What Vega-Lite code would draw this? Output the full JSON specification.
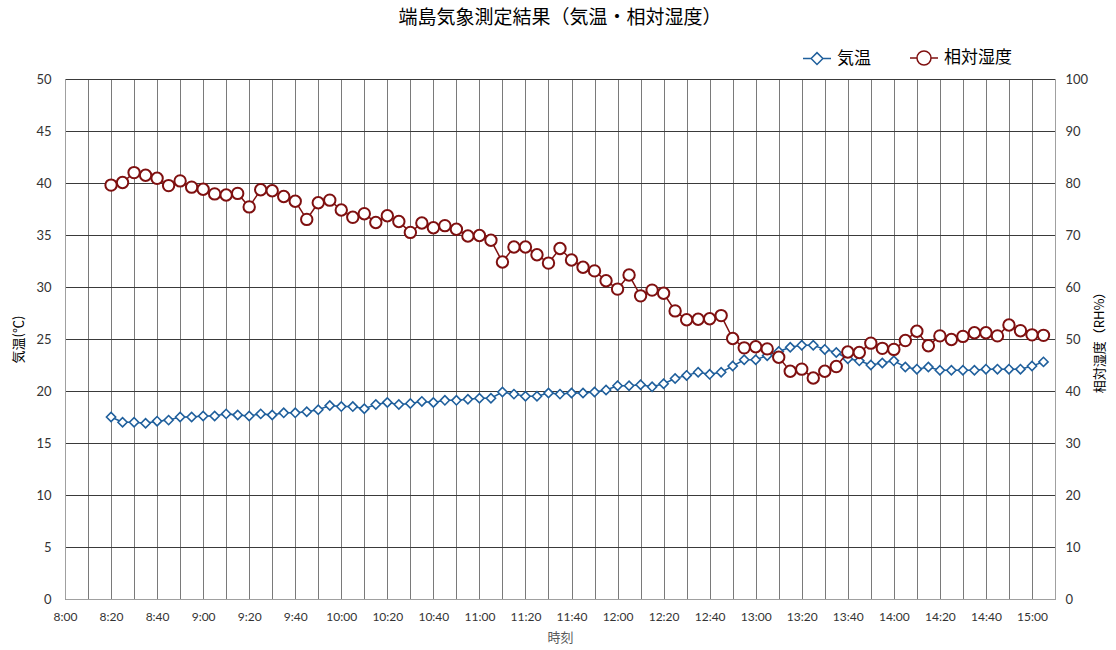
{
  "$schema": "https://vega.github.io/schema/vega-lite/v6.json",
  "width": 990,
  "height": 520,
  "autosize": {"type": "none"},
  "padding": {"left": 65, "top": 79, "right": 61, "bottom": 51},
  "background": "white",
  "title": {
    "text": "端島気象測定結果（気温・相対湿度）",
    "font": "Noto Sans CJK JP",
    "fontSize": 19,
    "fontWeight": "normal",
    "color": "#000000",
    "anchor": "middle",
    "offset": 15
  },
  "config": {
    "view": {"stroke": null},
    "axis": {
      "labelFont": "Lato",
      "labelFontSize": 13,
      "labelColor": "#333333",
      "titleFont": "Noto Sans CJK JP",
      "titleFontWeight": "normal",
      "titleFontSize": 13,
      "titleColor": "#000000",
      "domainColor": "#a0a0a0",
      "ticks": false
    },
    "legend": {
      "labelFont": "Noto Sans CJK JP",
      "labelFontSize": 17,
      "labelColor": "#000000"
    }
  },
  "data": {
    "values": [
      {"時刻": "08:20", "気温": 17.5, "相対湿度": 79.6},
      {"時刻": "08:25", "気温": 17.0, "相対湿度": 80.1},
      {"時刻": "08:30", "気温": 17.0, "相対湿度": 82.0},
      {"時刻": "08:35", "気温": 16.9, "相対湿度": 81.5},
      {"時刻": "08:40", "気温": 17.1, "相対湿度": 80.9},
      {"時刻": "08:45", "気温": 17.2, "相対湿度": 79.5},
      {"時刻": "08:50", "気温": 17.5, "相対湿度": 80.4},
      {"時刻": "08:55", "気温": 17.5, "相対湿度": 79.2},
      {"時刻": "09:00", "気温": 17.6, "相対湿度": 78.8},
      {"時刻": "09:05", "気温": 17.6, "相対湿度": 77.9},
      {"時刻": "09:10", "気温": 17.8, "相対湿度": 77.7},
      {"時刻": "09:15", "気温": 17.7, "相対湿度": 78.0},
      {"時刻": "09:20", "気温": 17.6, "相対湿度": 75.4},
      {"時刻": "09:25", "気温": 17.8, "相対湿度": 78.7},
      {"時刻": "09:30", "気温": 17.7, "相対湿度": 78.5},
      {"時刻": "09:35", "気温": 17.9, "相対湿度": 77.4},
      {"時刻": "09:40", "気温": 17.9, "相対湿度": 76.5},
      {"時刻": "09:45", "気温": 18.0, "相対湿度": 73.0},
      {"時刻": "09:50", "気温": 18.2, "相対湿度": 76.2},
      {"時刻": "09:55", "気温": 18.6, "相対湿度": 76.7},
      {"時刻": "10:00", "気温": 18.5, "相対湿度": 74.8},
      {"時刻": "10:05", "気温": 18.5, "相対湿度": 73.4},
      {"時刻": "10:10", "気温": 18.3, "相対湿度": 74.1},
      {"時刻": "10:15", "気温": 18.7, "相対湿度": 72.4},
      {"時刻": "10:20", "気温": 18.9, "相対湿度": 73.7},
      {"時刻": "10:25", "気温": 18.7, "相対湿度": 72.6},
      {"時刻": "10:30", "気温": 18.8, "相対湿度": 70.5},
      {"時刻": "10:35", "気温": 19.0, "相対湿度": 72.3},
      {"時刻": "10:40", "気温": 18.9, "相対湿度": 71.4},
      {"時刻": "10:45", "気温": 19.1, "相対湿度": 71.8},
      {"時刻": "10:50", "気温": 19.1, "相対湿度": 71.1},
      {"時刻": "10:55", "気温": 19.2, "相対湿度": 69.8},
      {"時刻": "11:00", "気温": 19.3, "相対湿度": 69.9},
      {"時刻": "11:05", "気温": 19.3, "相対湿度": 69.0},
      {"時刻": "11:10", "気温": 19.9, "相対湿度": 64.8},
      {"時刻": "11:15", "気温": 19.7, "相対湿度": 67.7},
      {"時刻": "11:20", "気温": 19.5, "相対湿度": 67.7},
      {"時刻": "11:25", "気温": 19.5, "相対湿度": 66.2},
      {"時刻": "11:30", "気温": 19.8, "相対湿度": 64.6},
      {"時刻": "11:35", "気温": 19.7, "相対湿度": 67.4},
      {"時刻": "11:40", "気温": 19.8, "相対湿度": 65.2},
      {"時刻": "11:45", "気温": 19.8, "相対湿度": 63.8},
      {"時刻": "11:50", "気温": 19.9, "相対湿度": 63.1},
      {"時刻": "11:55", "気温": 20.1, "相対湿度": 61.2},
      {"時刻": "12:00", "気温": 20.5, "相対湿度": 59.6},
      {"時刻": "12:05", "気温": 20.5, "相対湿度": 62.3},
      {"時刻": "12:10", "気温": 20.6, "相対湿度": 58.3},
      {"時刻": "12:15", "気温": 20.4, "相対湿度": 59.4},
      {"時刻": "12:20", "気温": 20.7, "相対湿度": 58.8},
      {"時刻": "12:25", "気温": 21.2, "相対湿度": 55.4},
      {"時刻": "12:30", "気温": 21.5, "相対湿度": 53.7},
      {"時刻": "12:35", "気温": 21.8, "相対湿度": 53.8},
      {"時刻": "12:40", "気温": 21.6, "相対湿度": 53.9},
      {"時刻": "12:45", "気温": 21.8, "相対湿度": 54.5},
      {"時刻": "12:50", "気温": 22.4, "相対湿度": 50.1},
      {"時刻": "12:55", "気温": 23.0, "相対湿度": 48.3},
      {"時刻": "13:00", "気温": 23.0, "相対湿度": 48.5},
      {"時刻": "13:05", "気温": 23.4, "相対湿度": 48.1},
      {"時刻": "13:10", "気温": 23.8, "相対湿度": 46.5},
      {"時刻": "13:15", "気温": 24.2, "相対湿度": 43.8},
      {"時刻": "13:20", "気温": 24.4, "相対湿度": 44.2},
      {"時刻": "13:25", "気温": 24.4, "相対湿度": 42.5},
      {"時刻": "13:30", "気温": 24.0, "相対湿度": 43.8},
      {"時刻": "13:35", "気温": 23.7, "相対湿度": 44.7},
      {"時刻": "13:40", "気温": 23.1, "相対湿度": 47.5},
      {"時刻": "13:45", "気温": 22.9, "相対湿度": 47.4},
      {"時刻": "13:50", "気温": 22.5, "相対湿度": 49.2},
      {"時刻": "13:55", "気温": 22.7, "相対湿度": 48.2},
      {"時刻": "14:00", "気温": 22.9, "相対湿度": 48.0},
      {"時刻": "14:05", "気温": 22.3, "相対湿度": 49.7},
      {"時刻": "14:10", "気温": 22.1, "相対湿度": 51.5},
      {"時刻": "14:15", "気温": 22.3, "相対湿度": 48.7},
      {"時刻": "14:20", "気温": 22.0, "相対湿度": 50.6},
      {"時刻": "14:25", "気温": 22.0, "相対湿度": 49.9},
      {"時刻": "14:30", "気温": 22.0, "相対湿度": 50.5},
      {"時刻": "14:35", "気温": 22.0, "相対湿度": 51.2},
      {"時刻": "14:40", "気温": 22.1, "相対湿度": 51.2},
      {"時刻": "14:45", "気温": 22.1, "相対湿度": 50.6},
      {"時刻": "14:50", "気温": 22.1, "相対湿度": 52.7},
      {"時刻": "14:55", "気温": 22.1, "相対湿度": 51.6},
      {"時刻": "15:00", "気温": 22.4, "相対湿度": 50.8},
      {"時刻": "15:05", "気温": 22.8, "相対湿度": 50.7}
    ],
    "format": {"parse": {"時刻": "date:'%H:%M'"}}
  },
  "layer": [
    {
      "encoding": {
        "x": {
          "field": "時刻",
          "type": "temporal",
          "title": "時刻",
          "scale": {
            "domain": [
              {"year": 1900, "month": 1, "date": 1, "hours": 8, "minutes": 0},
              {"year": 1900, "month": 1, "date": 1, "hours": 15, "minutes": 10}
            ],
            "nice": false
          },
          "axis": {
            "values": [
              {"year": 1900, "month": 1, "date": 1, "hours": 8, "minutes": 0},
              {"year": 1900, "month": 1, "date": 1, "hours": 8, "minutes": 20},
              {"year": 1900, "month": 1, "date": 1, "hours": 8, "minutes": 40},
              {"year": 1900, "month": 1, "date": 1, "hours": 9, "minutes": 0},
              {"year": 1900, "month": 1, "date": 1, "hours": 9, "minutes": 20},
              {"year": 1900, "month": 1, "date": 1, "hours": 9, "minutes": 40},
              {"year": 1900, "month": 1, "date": 1, "hours": 10, "minutes": 0},
              {"year": 1900, "month": 1, "date": 1, "hours": 10, "minutes": 20},
              {"year": 1900, "month": 1, "date": 1, "hours": 10, "minutes": 40},
              {"year": 1900, "month": 1, "date": 1, "hours": 11, "minutes": 0},
              {"year": 1900, "month": 1, "date": 1, "hours": 11, "minutes": 20},
              {"year": 1900, "month": 1, "date": 1, "hours": 11, "minutes": 40},
              {"year": 1900, "month": 1, "date": 1, "hours": 12, "minutes": 0},
              {"year": 1900, "month": 1, "date": 1, "hours": 12, "minutes": 20},
              {"year": 1900, "month": 1, "date": 1, "hours": 12, "minutes": 40},
              {"year": 1900, "month": 1, "date": 1, "hours": 13, "minutes": 0},
              {"year": 1900, "month": 1, "date": 1, "hours": 13, "minutes": 20},
              {"year": 1900, "month": 1, "date": 1, "hours": 13, "minutes": 40},
              {"year": 1900, "month": 1, "date": 1, "hours": 14, "minutes": 0},
              {"year": 1900, "month": 1, "date": 1, "hours": 14, "minutes": 20},
              {"year": 1900, "month": 1, "date": 1, "hours": 14, "minutes": 40},
              {"year": 1900, "month": 1, "date": 1, "hours": 15, "minutes": 0}
            ],
            "format": "%-H:%M",
            "labelOverlap": false,
            "labelFlush": false,
            "labelPadding": 12,
            "labelFontSize": 12,
            "grid": true,
            "gridColor": "#7a7a7a",
            "gridOpacity": 1,
            "titleColor": "#595959",
            "titlePadding": 9
          }
        },
        "y": {
          "field": "気温",
          "type": "quantitative",
          "title": "気温(℃)",
          "scale": {"domain": [0, 50], "nice": false},
          "axis": {
            "values": [0, 5, 10, 15, 20, 25, 30, 35, 40, 45, 50],
            "grid": true,
            "gridColor": "#3a3a3a",
            "gridOpacity": 1,
            "labelPadding": 14,
            "titlePadding": 10
          }
        }
      },
      "layer": [
        {
          "mark": {"type": "line", "color": "#1f5f9c", "strokeWidth": 1.5}
        },
        {
          "mark": {
            "type": "point",
            "shape": "diamond",
            "size": 85,
            "filled": true,
            "fill": "white",
            "stroke": "#1f5f9c",
            "strokeWidth": 1.6,
            "opacity": 1
          }
        },
        {
          "transform": [
            {"fold": ["気温", "相対湿度"], "as": ["系列", "値"]},
            {"filter": "false"}
          ],
          "mark": {
            "type": "point",
            "filled": true,
            "fill": "white",
            "strokeWidth": 1.5,
            "opacity": 1
          },
          "encoding": {
            "y": {"field": "値", "type": "quantitative"},
            "stroke": {
              "field": "系列",
              "type": "nominal",
              "scale": {
                "domain": ["気温", "相対湿度"],
                "range": ["#1f5f9c", "#7f1010"]
              },
              "legend": {
                "title": null,
                "orient": "none",
                "direction": "horizontal",
                "legendX": 737,
                "legendY": -36,
                "symbolSize": 784,
                "symbolStrokeWidth": 1.5,
                "symbolFillColor": "white",
                "columnPadding": 36,
                "labelOffset": 5
              }
            },
            "shape": {
              "field": "系列",
              "type": "nominal",
              "scale": {
                "domain": ["気温", "相対湿度"],
                "range": [
                  "M-1,0L-0.42,0M0.42,0L1,0M-0.42,0L0,-0.42L0.42,0L0,0.42Z",
                  "M-1,0L-0.5,0M0.5,0L1,0M-0.5,0A0.5,0.5,0,1,1,0.5,0A0.5,0.5,0,1,1,-0.5,0Z"
                ]
              },
              "legend": {
                "title": null,
                "orient": "none",
                "direction": "horizontal",
                "legendX": 737,
                "legendY": -36,
                "symbolSize": 784,
                "symbolStrokeWidth": 1.5,
                "symbolFillColor": "white",
                "columnPadding": 36,
                "labelOffset": 5
              }
            }
          }
        }
      ]
    },
    {
      "encoding": {
        "x": {
          "field": "時刻",
          "type": "temporal",
          "axis": {
            "orient": "top",
            "values": [
              {"year": 1900, "month": 1, "date": 1, "hours": 8, "minutes": 10},
              {"year": 1900, "month": 1, "date": 1, "hours": 8, "minutes": 30},
              {"year": 1900, "month": 1, "date": 1, "hours": 8, "minutes": 50},
              {"year": 1900, "month": 1, "date": 1, "hours": 9, "minutes": 10},
              {"year": 1900, "month": 1, "date": 1, "hours": 9, "minutes": 30},
              {"year": 1900, "month": 1, "date": 1, "hours": 9, "minutes": 50},
              {"year": 1900, "month": 1, "date": 1, "hours": 10, "minutes": 10},
              {"year": 1900, "month": 1, "date": 1, "hours": 10, "minutes": 30},
              {"year": 1900, "month": 1, "date": 1, "hours": 10, "minutes": 50},
              {"year": 1900, "month": 1, "date": 1, "hours": 11, "minutes": 10},
              {"year": 1900, "month": 1, "date": 1, "hours": 11, "minutes": 30},
              {"year": 1900, "month": 1, "date": 1, "hours": 11, "minutes": 50},
              {"year": 1900, "month": 1, "date": 1, "hours": 12, "minutes": 10},
              {"year": 1900, "month": 1, "date": 1, "hours": 12, "minutes": 30},
              {"year": 1900, "month": 1, "date": 1, "hours": 12, "minutes": 50},
              {"year": 1900, "month": 1, "date": 1, "hours": 13, "minutes": 10},
              {"year": 1900, "month": 1, "date": 1, "hours": 13, "minutes": 30},
              {"year": 1900, "month": 1, "date": 1, "hours": 13, "minutes": 50},
              {"year": 1900, "month": 1, "date": 1, "hours": 14, "minutes": 10},
              {"year": 1900, "month": 1, "date": 1, "hours": 14, "minutes": 30},
              {"year": 1900, "month": 1, "date": 1, "hours": 14, "minutes": 50}
            ],
            "labels": false,
            "domain": false,
            "title": null,
            "grid": true,
            "gridColor": "#7a7a7a",
            "gridOpacity": 1
          }
        },
        "y": {
          "field": "相対湿度",
          "type": "quantitative",
          "title": "相対湿度（RH%）",
          "scale": {"domain": [0, 100], "nice": false},
          "axis": {
            "orient": "right",
            "values": [0, 10, 20, 30, 40, 50, 60, 70, 80, 90, 100],
            "grid": false,
            "labelPadding": 10,
            "titleAngle": 270,
            "titlePadding": 19
          }
        }
      },
      "layer": [
        {
          "mark": {"type": "line", "color": "#7f1010", "strokeWidth": 1.5}
        },
        {
          "mark": {
            "type": "point",
            "shape": "circle",
            "size": 130,
            "filled": true,
            "fill": "white",
            "stroke": "#7f1010",
            "strokeWidth": 2,
            "opacity": 1
          }
        }
      ]
    }
  ],
  "resolve": {"scale": {"y": "independent"}, "axis": {"x": "independent"}}
}
